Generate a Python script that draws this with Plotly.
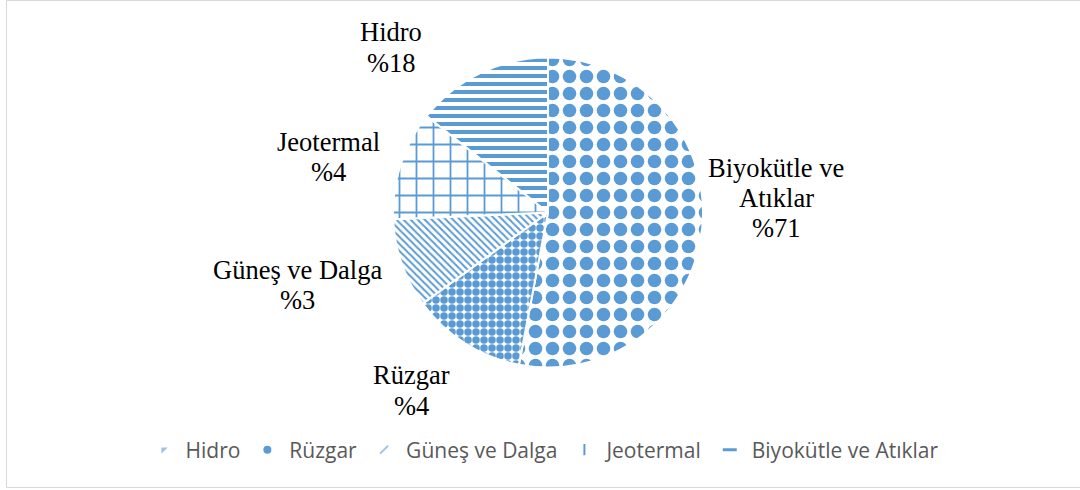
import plotly.graph_objects as go

W, H = 1080, 490

# --- data ---
slice_names = ["Biyokütle ve Atıklar", "Rüzgar", "Güneş ve Dalga", "Jeotermal", "Hidro"]
slice_shares = [53.0, 12.0, 9.3, 11.4, 14.3]          # visual slice sizes, clockwise from 12 o'clock
label_percents = [71, 4, 3, 4, 18]                     # percentages printed in the data labels
label_lines = [["Biyokütle ve", "Atıklar"], ["Rüzgar"], ["Güneş ve Dalga"], ["Jeotermal"], ["Hidro"]]
legend_names = ["Hidro", "Rüzgar", "Güneş ve Dalga", "Jeotermal", "Biyokütle ve Atıklar"]

# --- styles ---
BLUE = "#5b9bd5"
patterns = {
    "Biyokütle ve Atıklar": dict(shape=".", size=17, solidity=0.5),
    "Rüzgar": dict(shape=".", size=8, solidity=0.7),
    "Güneş ve Dalga": dict(shape="\\", size=5, solidity=0.4),
    "Jeotermal": dict(shape="+", size=17, solidity=0.2),
    "Hidro": dict(shape="-", size=8, solidity=0.5),
}
pat = dict(
    shape=[patterns[n]["shape"] for n in slice_names],
    size=[patterns[n]["size"] for n in slice_names],
    solidity=[patterns[n]["solidity"] for n in slice_names],
    fgcolor=BLUE, bgcolor="white", fgopacity=1, fillmode="replace",
)

# label layout (pixel centres of each text line)
label_pos = {
    "Biyokütle ve Atıklar": (776, [168, 198, 228]),
    "Rüzgar": (411, [375, 406]),
    "Güneş ve Dalga": (297, [270, 300]),
    "Jeotermal": (328, [142, 172]),
    "Hidro": (391, [32, 63]),
}

cx, cy, r = 548, 212.5, 155

fig = go.Figure()
fig.add_trace(go.Pie(
    labels=slice_names, values=slice_shares, sort=False, direction="clockwise",
    rotation=0, textinfo="none", hoverinfo="label+percent", showlegend=False,
    marker=dict(colors=["white"] * 5, line=dict(color="white", width=2), pattern=pat),
    domain=dict(x=[(cx - r) / W, (cx + r) / W], y=[1 - (cy + r) / H, 1 - (cy - r) / H]),
))

legend_markers = {
    "Hidro": dict(symbol="triangle-nw", size=7, color="#9dc3e6"),
    "Rüzgar": dict(symbol="circle", size=8, color=BLUE),
    "Güneş ve Dalga": dict(symbol="line-ne", size=8, color="#9dc3e6", line=dict(color="#9dc3e6", width=2)),
    "Jeotermal": dict(symbol="line-ns", size=8, color=BLUE, line=dict(color=BLUE, width=2)),
    "Biyokütle ve Atıklar": dict(symbol="line-ew", size=10, color=BLUE, line=dict(color=BLUE, width=3)),
}
for n in legend_names:
    fig.add_trace(go.Scatter(x=[None], y=[None], mode="markers", name=n,
                             marker=legend_markers[n], showlegend=True, hoverinfo="skip"))

for name, pct, lines in zip(slice_names, label_percents, label_lines):
    x, ys = label_pos[name]
    texts = lines + [f"%{pct}"]
    for t, y in zip(texts, ys):
        fig.add_annotation(x=x / W, y=1 - y / H, xref="paper", yref="paper", text=t,
                           showarrow=False, xanchor="center", yanchor="middle",
                           font=dict(family="Liberation Serif", size=26.5, color="black"))

fig.add_shape(type="rect", xref="paper", yref="paper",
              x0=6.5 / W, x1=1085 / W, y0=1 - 487.5 / H, y1=1 - 0.5 / H,
              line=dict(color="#d9d9d9", width=1), fillcolor="rgba(0,0,0,0)", layer="below")

fig.update_layout(
    width=W, height=H, margin=dict(l=0, r=0, t=0, b=0),
    paper_bgcolor="white", plot_bgcolor="white",
    xaxis=dict(visible=False), yaxis=dict(visible=False),
    legend=dict(orientation="h", x=543 / W, xanchor="center", y=1 - 450 / H, yanchor="middle",
                itemwidth=34,
                font=dict(family="Open Sans", size=21, color="#595959"), bgcolor="rgba(0,0,0,0)"),
)

fig.write_html("out.html", config={"displayModeBar": False},
               post_script="document.body.style.margin='0';document.body.style.overflow='hidden';")
